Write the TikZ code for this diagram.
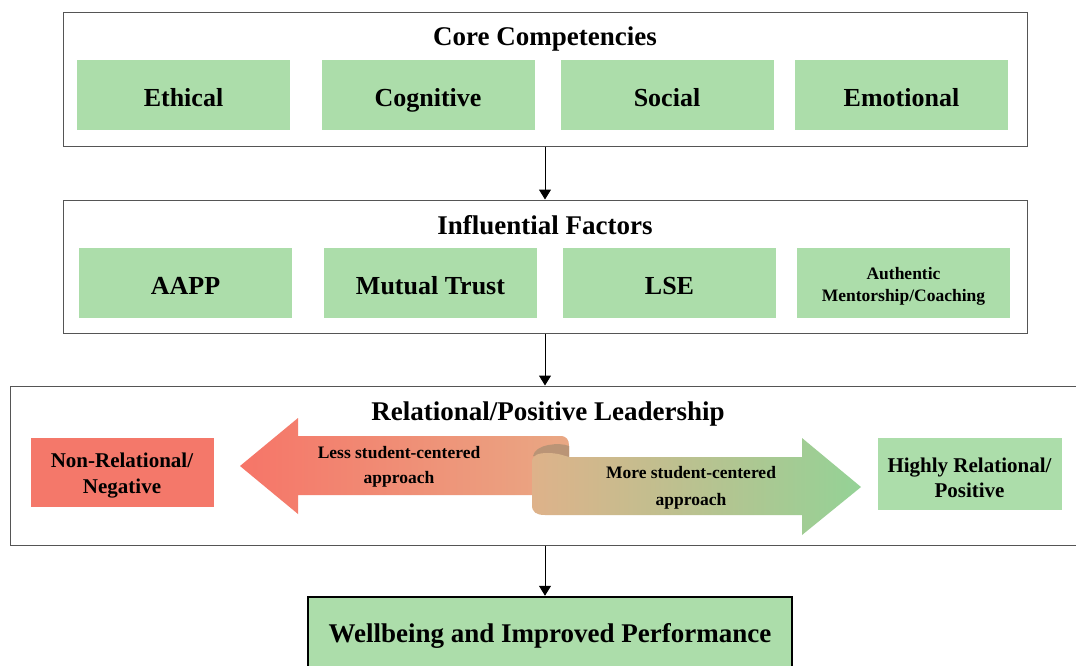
\documentclass[tikz,border=0pt]{standalone}
\usepackage{fontspec}
\setmainfont{Liberation Serif}
\usetikzlibrary{arrows.meta,positioning,calc}

\definecolor{compgreen}{RGB}{172,221,170}
\definecolor{negred}{RGB}{244,120,106}
\definecolor{ribbonred}{RGB}{246,117,104}
\definecolor{ribbontan}{RGB}{233,168,132}
\definecolor{ribbonsand}{RGB}{222,178,138}
\definecolor{ribbongreen}{RGB}{148,210,150}
\definecolor{ribbonshade}{RGB}{186,148,118}
\definecolor{panelgray}{RGB}{85,85,85}

\begin{document}
\begin{tikzpicture}[
    x=1pt, y=-1pt,
    >={Triangle[length=10pt,width=12pt]},
    panel/.style={
        rectangle,
        draw=panelgray,
        line width=1pt,
        fill=white,
        inner sep=0pt
    },
    heading/.style={
        anchor=base,
        font=\fontsize{27}{30}\selectfont\bfseries,
        inner sep=0pt
    },
    comp/.style={
        rectangle,
        fill=#1,
        minimum width=213pt,
        minimum height=70pt,
        inner sep=0pt
    },
    comp/.default=compgreen,
    complabel/.style={
        anchor=base,
        inner sep=0pt,
        font=\fontsize{26}{30}\selectfont\bfseries
    },
    polelabel/.style={
        anchor=base,
        align=center,
        inner sep=0pt,
        font=\fontsize{21}{26}\selectfont\bfseries
    },
    ribbontext/.style={
        anchor=base,
        align=center,
        inner sep=0pt,
        font=\fontsize{17.5}{26}\selectfont\bfseries
    }
]

\useasboundingbox (0,0) rectangle (1076,665);
\fill[white] (0,0) rectangle (1076,665);

% Core competencies
\node[panel, minimum width=964pt, minimum height=134pt] (core) at (545,79) {};
\node[heading] (coretitle) at (545,45) {Core Competencies};
\node[comp] (ethical) at (183.5,95) {};
\node[comp] (cognitive) at (428,95) {};
\node[comp] (social) at (667,95) {};
\node[comp] (emotional) at (901.5,95) {};
\node[complabel] at (ethical.center |- 0,106) {Ethical};
\node[complabel] at (cognitive.center |- 0,106) {Cognitive};
\node[complabel] at (social.center |- 0,106) {Social};
\node[complabel] at (emotional.center |- 0,106) {Emotional};

% Influential factors
\node[panel, minimum width=964pt, minimum height=133pt] (factors) at (545,266.5) {};
\node[heading] (factorstitle) at (545,234) {Influential Factors};
\node[comp] (aapp) at (185.5,283) {};
\node[comp] (trust) at (430.5,283) {};
\node[comp] (lse) at (669.5,283) {};
\node[comp] (mentor) at (903.5,283) {};
\node[complabel] at (aapp.center |- 0,294) {AAPP};
\node[complabel] at (trust.center |- 0,294) {Mutual Trust};
\node[complabel] at (lse.center |- 0,294) {LSE};
\node[ribbontext, font=\fontsize{17.5}{22}\selectfont\bfseries] at (mentor.center |- 0,301) {Authentic\\Mentorship/Coaching};

% Relational/positive leadership
\node[panel, minimum width=1080pt, minimum height=159pt] (lead) at (550,465.5) {};
\node[heading] (leadtitle) at (548,420) {Relational/Positive Leadership};
\node[comp=negred, minimum width=183pt, minimum height=69pt] (negative) at (122,472.5) {};
\node[comp, minimum width=184pt, minimum height=72pt] (positive) at (969.5,474) {};
\node[polelabel] at (negative.center |- 0,493) {Non-Relational/\\Negative};
\node[polelabel, font=\fontsize{21}{25}\selectfont\bfseries] at (positive.center |- 0,497) {Highly Relational/\\Positive};

% two-way ribbon arrow
\shade[left color=ribbonred, right color=ribbontan]
    (240,466) -- (298,418) -- (298,436) -- (560,436)
    .. controls (567,436) and (569,440) .. (569,446)
    -- (569,495) -- (298,495) -- (298,514) -- cycle;
\fill[ribbonshade]
    (533,456) .. controls (535,444) and (560,442) .. (569,446)
    -- (569,458) -- (540,458) -- cycle;
\shade[left color=ribbonsand, right color=ribbongreen]
    (532,462) .. controls (532,455) and (538,453) .. (548,453)
    .. controls (558,453) and (565,456) .. (569,457)
    -- (802,457) -- (802,438) -- (861,487) -- (802,535) -- (802,515)
    -- (545,515) .. controls (536,515) and (532,512) .. (532,505) -- cycle;
\node[ribbontext, font=\fontsize{17.5}{25}\selectfont\bfseries] (less) at (399,483) {Less student-centered\\approach};
\node[ribbontext, font=\fontsize{17.5}{27}\selectfont\bfseries] (more) at (691,505) {More student-centered\\approach};

% Outcome
\node[panel, draw=black, line width=2.5pt, fill=compgreen,
      minimum width=484pt, minimum height=75pt] (well) at (550,634.5) {};
\node[heading] (welltitle) at (550,642) {Wellbeing and Improved Performance};

% Flow between layers
\draw[->, line width=1pt] (core.south) -- (factors.north);
\draw[->, line width=1pt] (factors.south) -- (factors.south |- lead.north);
\draw[->, line width=1pt] (factors.south |- lead.south) -- (factors.south |- well.north);

\end{tikzpicture}
\end{document}
